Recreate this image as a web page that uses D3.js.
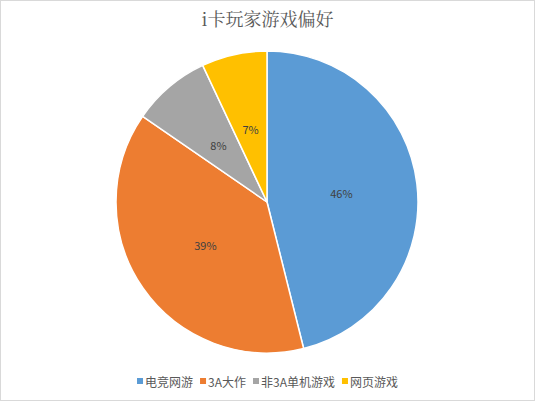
<!DOCTYPE html>
<html>
<head>
<meta charset="utf-8">
<script src="https://d3js.org/d3.v7.min.js"></script>
<style>
  body { margin: 0; background: #fff; }
  svg { display: block; }
</style>
</head>
<body>
<svg id="chart" width="535" height="401"></svg>
<script>
const title = "i卡玩家游戏偏好";
const categories = ["电竞网游", "3A大作", "非3A单机游戏", "网页游戏"];
const values = [46.1, 38.5, 8.4, 7.0];
const labels = ["46%", "39%", "8%", "7%"];
const colours = ["#5B9BD5", "#ED7D31", "#A5A5A5", "#FFC000"];

const width = 535, height = 401;
const cx = 267, cy = 202, radius = 151;
const font = "'Noto Sans CJK SC', 'Noto Sans', sans-serif";

const svg = d3.select("#chart");

// outer frame
svg.append("rect")
  .attr("x", 0.5).attr("y", 0.5)
  .attr("width", width - 1).attr("height", height - 1)
  .attr("fill", "#fff")
  .attr("stroke", "#d9d9d9");

svg.append("text")
  .attr("x", width / 2).attr("y", 26)
  .attr("text-anchor", "middle")
  .attr("font-family", "'Noto Serif CJK SC', 'DejaVu Serif', " + font)
  .attr("font-size", 18)
  .attr("fill", "#595959")
  .text(title);

const pie = d3.pie().sort(null).value((d) => d);
const arcs = pie(values);
const arc = d3.arc().innerRadius(0).outerRadius(radius);

const g = svg.append("g").attr("transform", `translate(${cx},${cy})`);

g.selectAll("path")
  .data(arcs)
  .join("path")
  .attr("d", arc)
  .attr("fill", (d, i) => colours[i])
  .attr("stroke", "#fff")
  .attr("stroke-width", 1.5)
  .attr("stroke-linejoin", "round");

// data labels sit about halfway out
const labelPos = d3.arc().innerRadius(75).outerRadius(75);
g.selectAll("text.lbl")
  .data(arcs)
  .join("text")
  .attr("class", "lbl")
  .attr("transform", (d) => `translate(${labelPos.centroid(d)})`)
  .attr("text-anchor", "middle")
  .attr("dominant-baseline", "central")
  .attr("font-family", font)
  .attr("font-size", 11)
  .attr("fill", "#404040")
  .text((d, i) => labels[i]);

// legend
const legend = svg.append("g");
const items = legend.selectAll("g")
  .data(categories)
  .join("g");
items.append("rect")
  .attr("width", 6).attr("height", 6)
  .attr("y", -3)
  .attr("fill", (d, i) => colours[i]);
items.append("text")
  .attr("x", 8)
  .attr("dominant-baseline", "central")
  .attr("font-family", font)
  .attr("font-size", 12)
  .attr("fill", "#595959")
  .text((d) => d);

let x = 0;
const gap = 7;
items.each(function () {
  const w = this.querySelector("text").getComputedTextLength();
  d3.select(this).attr("transform", `translate(${x},0)`);
  x += 8 + w + gap;
});
const total = x - gap;
legend.attr("transform", `translate(${(width - total) / 2},381)`);
</script>
</body>
</html>
